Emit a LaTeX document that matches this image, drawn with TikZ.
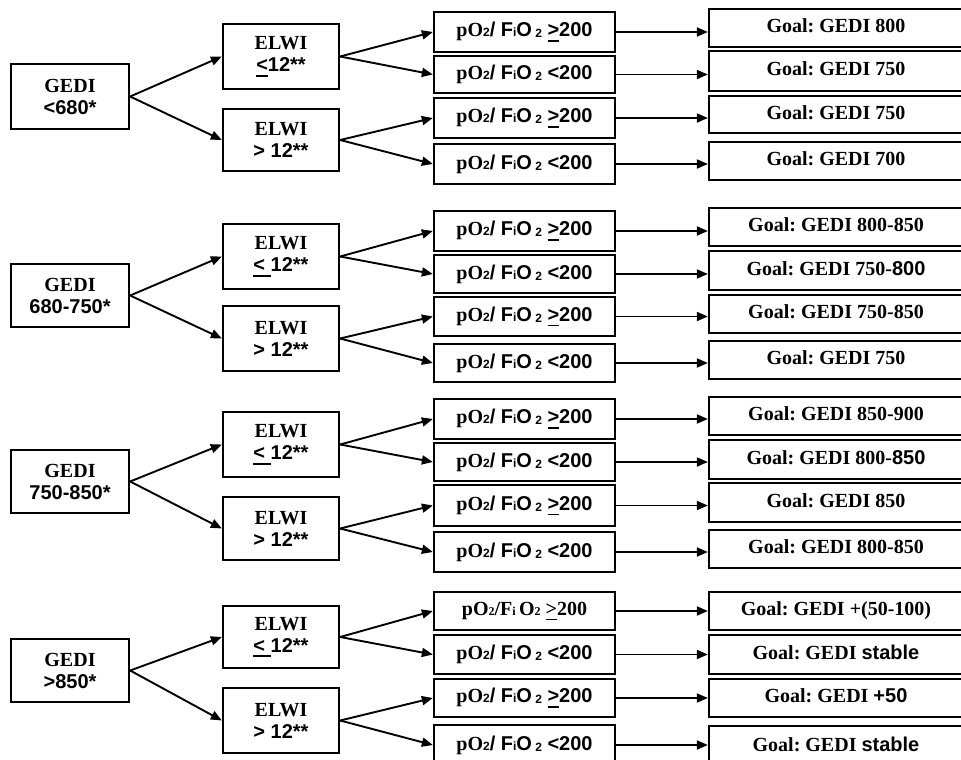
\documentclass[tikz,border=0pt]{standalone}
\usepackage{fontspec}
\setmainfont{Liberation Serif}
\setsansfont{Liberation Sans}
\usetikzlibrary{arrows.meta}
\frenchspacing
\newsavebox\ulbox
\newcommand\sm[1]{{\fontsize{12}{12}\selectfont #1}}
\newcommand\ul[1]{\sbox\ulbox{#1}\rlap{\usebox\ulbox}\rule[-5pt]{\wd\ulbox}{1.6pt}}
\newcommand\pge{\textrm{pO}\textsf{\sm{2}/ F\sm{i}O\,\raisebox{-1pt}{\sm{2}} \ul{>}200}}
\newcommand\plt{\textrm{pO}\textsf{\sm{2}/ F\sm{i}O\,\raisebox{-1pt}{\sm{2}} <200}}
\newcommand\pser{\textrm{pO\sm{2}/F\sm{i}\,O\sm{2} \ul{>}200}}
\newcommand\bx[7]{\node[#6, minimum width={(#4)-(#2)}, minimum height={(#5)-(#3)}] (#1) at ({((#2)+(#4))/2},{((#3)+(#5))/2}) {#7};}
\tikzset{
  box/.style={draw, line width=2.3pt, inner sep=0pt, align=center,
    font=\bfseries\fontsize{20}{22}\selectfont},
  goal/.style={box, text depth=4pt},
  arr/.style={line width=1.9pt, -{Triangle[length=11pt,width=9pt]}}
}
\begin{document}
\begin{tikzpicture}[x=1pt,y=-1pt]
\useasboundingbox (0,0) rectangle (961,760);
\clip (0,0) rectangle (961,760);
% Block 1
\bx{G1}{11}{64}{129}{129}{box}{GEDI\\\textsf{<680*}}
\bx{E11}{223}{24}{339}{89}{box}{ELWI\\\textsf{\ul{<}12**}}
\bx{E12}{223}{109}{339}{171}{box}{ELWI\\\textsf{> 12**}}
\bx{P11}{434}{12}{615}{52}{box}{\pge}
\bx{P12}{434}{56}{615}{93}{box}{\plt}
\bx{P13}{434}{98}{615}{138}{box}{\pge}
\bx{P14}{434}{144}{615}{184}{box}{\plt}
\bx{Q11}{709}{9}{963}{47}{goal}{Goal: GEDI 800}
\bx{Q12}{709}{51}{963}{91}{goal}{Goal: GEDI 750}
\bx{Q13}{709}{96}{963}{133}{goal}{Goal: GEDI 750}
\bx{Q14}{709}{142}{963}{180}{goal}{Goal: GEDI 700}
% Block 2
\bx{G2}{11}{264}{129}{327}{box}{GEDI\\\textsf{680-750*}}
\bx{E21}{223}{224}{339}{289}{box}{ELWI\\\textsf{\ul{<\ }12**}}
\bx{E22}{223}{306}{339}{371}{box}{ELWI\\\textsf{> 12**}}
\bx{P21}{434}{211}{615}{251}{box}{\pge}
\bx{P22}{434}{255}{615}{293}{box}{\plt}
\bx{P23}{434}{297}{615}{336}{box}{\pge}
\bx{P24}{434}{344}{615}{382}{box}{\plt}
\bx{Q21}{709}{208}{963}{246}{goal}{Goal: GEDI 800-850}
\bx{Q22}{709}{251}{963}{290}{goal}{Goal: GEDI 750-\textsf{800}}
\bx{Q23}{709}{295}{963}{333}{goal}{Goal: GEDI 750-850}
\bx{Q24}{709}{341}{963}{379}{goal}{Goal: GEDI 750}
% Block 3
\bx{G3}{11}{450}{129}{513}{box}{GEDI\\\textsf{750-850*}}
\bx{E31}{223}{412}{339}{477}{box}{ELWI\\\textsf{\ul{<\ }12**}}
\bx{E32}{223}{497}{339}{560}{box}{ELWI\\\textsf{> 12**}}
\bx{P31}{434}{399}{615}{439}{box}{\pge}
\bx{P32}{434}{443}{615}{481}{box}{\plt}
\bx{P33}{434}{485}{615}{526}{box}{\pge}
\bx{P34}{434}{532}{615}{572}{box}{\plt}
\bx{Q31}{709}{397}{963}{435}{goal}{Goal: GEDI 850-900}
\bx{Q32}{709}{440}{963}{479}{goal}{Goal: GEDI 800-\textsf{850}}
\bx{Q33}{709}{483}{963}{522}{goal}{Goal: GEDI 850}
\bx{Q34}{709}{530}{963}{568}{goal}{Goal: GEDI 800-850}
% Block 4
\bx{G4}{11}{639}{129}{702}{box}{GEDI\\\textsf{>850*}}
\bx{E41}{223}{606}{339}{668}{box}{ELWI\\\textsf{\ul{<\ }12**}}
\bx{E42}{223}{688}{339}{753}{box}{ELWI\\\textsf{> 12**}}
\bx{P41}{434}{592}{615}{630}{box}{\pser}
\bx{P42}{434}{635}{615}{674}{box}{\plt}
\bx{P43}{434}{679}{615}{717}{box}{\pge}
\bx{P44}{434}{725}{615}{765}{box}{\plt}
\bx{Q41}{709}{592}{963}{630}{goal}{Goal: GEDI +(50-100)}
\bx{Q42}{709}{635}{963}{674}{goal}{Goal: GEDI \textsf{stable}}
\bx{Q43}{709}{679}{963}{717}{goal}{Goal: GEDI \textsf{+50}}
\bx{Q44}{709}{726}{963}{766}{goal}{Goal: GEDI \textsf{stable}}
% connectors
\foreach \b in {1,2,3,4}{
  \draw[arr] (G\b.east) -- (E\b1.west);
  \draw[arr] (G\b.east) -- (E\b2.west);
  \draw[arr] (E\b1.east) -- (P\b1.west);
  \draw[arr] (E\b1.east) -- (P\b2.west);
  \draw[arr] (E\b2.east) -- (P\b3.west);
  \draw[arr] (E\b2.east) -- (P\b4.west);
  \foreach \r in {1,2,3,4}{
    \draw[arr] (P\b\r.east) -- (P\b\r.east -| Q\b\r.west);
  }
}
\end{tikzpicture}
\end{document}
